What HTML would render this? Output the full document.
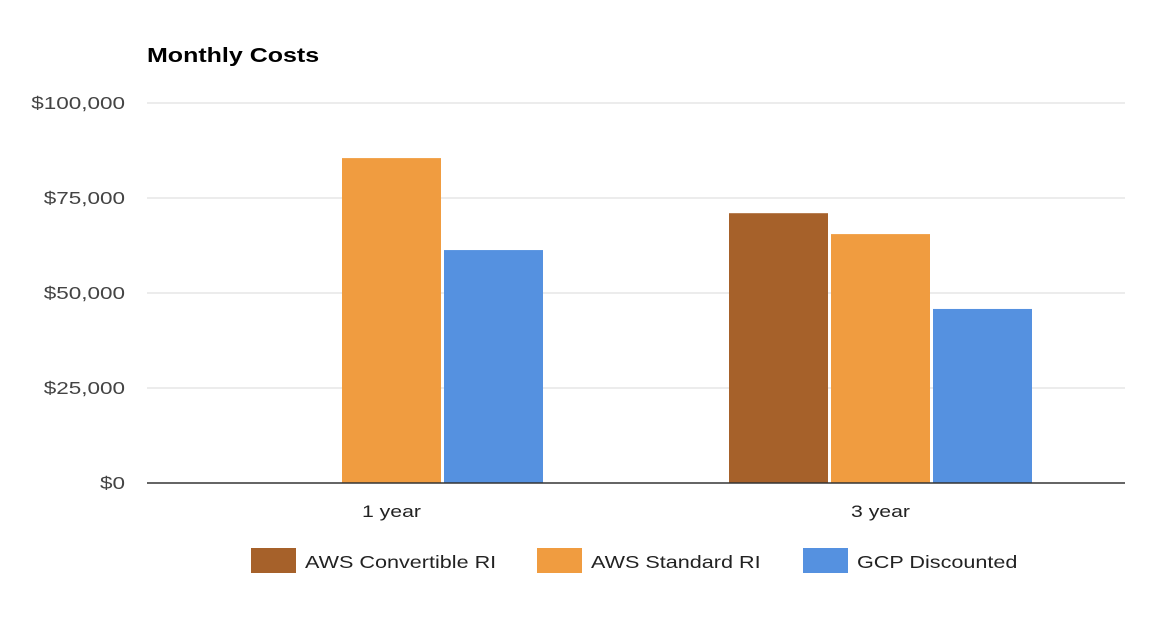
<!DOCTYPE html>
<html>
<head>
<meta charset="utf-8">
<style>
  html,body{margin:0;padding:0;background:#fff;}
  body{width:1158px;height:616px;overflow:hidden;font-family:"Liberation Sans",Arial,sans-serif;}
</style>
</head>
<body>
<svg id="chart" width="1158" height="616" xmlns="http://www.w3.org/2000/svg"></svg>
<script>
const categories = ["1 year", "3 year"];
const seriesNames = ["AWS Convertible RI", "AWS Standard RI", "GCP Discounted"];
const convertibleValues = [0, 71000];
const standardValues = [85500, 65500];
const gcpValues = [61300, 45800];
const yTicks = [0, 25000, 50000, 75000, 100000];
const yTickLabels = ["$0", "$25,000", "$50,000", "$75,000", "$100,000"];

const colors = ["#a6612a", "#f09c40", "#5591e0"];
const svg = document.getElementById('chart');
const NS = "http://www.w3.org/2000/svg";
const plotLeft = 147, plotRight = 1125, plotTop = 103, plotBottom = 483;
const yMax = 100000;
function y(v){ return plotBottom - (v / yMax) * (plotBottom - plotTop); }
const band = (plotRight - plotLeft) / categories.length;
function xCenter(i){ return plotLeft + band * (i + 0.5); }
const barW = 99, barGap = 3;

function mk(tag, attrs){ const e = document.createElementNS(NS, tag); for (const k in attrs) e.setAttribute(k, attrs[k]); svg.appendChild(e); return e; }
function stretch(e, x, sx){ e.setAttribute('transform', 'translate(' + x + ',0) scale(' + sx + ',1) translate(' + (-x) + ',0)'); }

const title = mk('text', {x:147, y:62, 'font-size':20, 'font-weight':'bold', fill:'#000'});
title.textContent = "Monthly Costs";
stretch(title, 147, 1.25);



yTicks.forEach((t, i) => {
  if (i > 0) {
    const g = mk('line', {x1:plotLeft, x2:plotRight, y1:y(t), y2:y(t), stroke:'#d9d9d9', 'stroke-width':1});
    
    
  }
  const lb = mk('text', {x:125, y:y(t)+6, 'font-size':18, fill:'#444', 'text-anchor':'end'});
  lb.textContent = yTickLabels[i];
  stretch(lb, 125, 1.25);
  
  
});

const allSeries = [convertibleValues, standardValues, gcpValues];
allSeries.forEach((vals, s) => {
  vals.forEach((v, i) => {
    if (v <= 0) return;
    const gx = xCenter(i) - (3*barW + 2*barGap)/2 + s*(barW + barGap);
    const r = mk('rect', {x:gx, y:y(v), width:barW, height:plotBottom - y(v), fill:colors[s]});
    
    
  });
});

const axis = mk('line', {x1:plotLeft, x2:plotRight, y1:plotBottom, y2:plotBottom, stroke:'#333', 'stroke-width':1.5});



categories.forEach((c, i) => {
  const t = mk('text', {x:xCenter(i), y:517, 'font-size':17, fill:'#222', 'text-anchor':'middle'});
  t.textContent = c;
  stretch(t, xCenter(i), 1.25);
  
  
});

const legendX = [251, 537, 803];
seriesNames.forEach((n, s) => {
  const r = mk('rect', {x:legendX[s], y:548, width:45, height:25, fill:colors[s]});
  
  
  const t = mk('text', {x:legendX[s]+54, y:568, 'font-size':18, fill:'#222'});
  t.textContent = n;
  stretch(t, legendX[s]+54, 1.2);
  
  
});
</script>
</body>
</html>
